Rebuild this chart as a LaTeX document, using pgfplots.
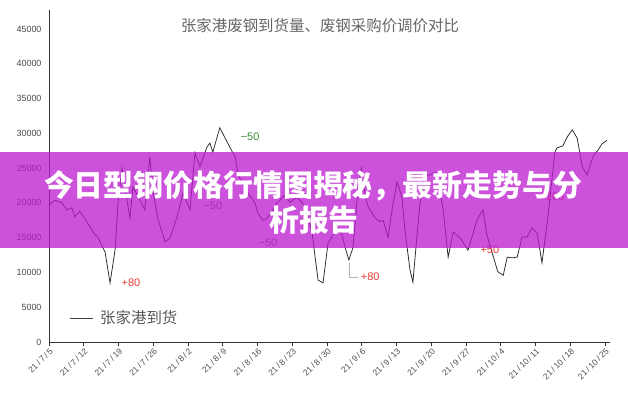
\documentclass[border=0pt]{standalone}
\usepackage{fontspec}
\setmainfont{Liberation Sans}
\newfontfamily\cjk{Noto Sans CJK SC}
\usepackage{pgfplots}
\pgfplotsset{compat=1.18}
\definecolor{banner}{RGB}{187,24,208}
\definecolor{upred}{RGB}{226,58,50}
\definecolor{dngreen}{RGB}{52,140,52}
\newcommand\dsl{\kern0.2em/\kern0.2em}
\begin{document}
\begin{tikzpicture}
\path[use as bounding box] (0,0) rectangle (628bp,400bp);
\begin{axis}[
    at={(49bp,58bp)}, anchor=south west,
    scale only axis, width=561bp, height=332bp,
    xmin=0, xmax=113, ymin=0, ymax=47730,
    axis x line*=bottom, axis y line*=left,
    axis line style={-, draw=black!80, line width=0.8pt},
    xtick={0,7,...,112},
    xticklabels={21\dsl7\dsl5,21\dsl7\dsl12,21\dsl7\dsl19,21\dsl7\dsl26,21\dsl8\dsl2,21\dsl8\dsl9,21\dsl8\dsl16,21\dsl8\dsl23,21\dsl8\dsl30,21\dsl9\dsl6,21\dsl9\dsl13,21\dsl9\dsl20,21\dsl9\dsl27,21\dsl10\dsl4,21\dsl10\dsl11,21\dsl10\dsl18,21\dsl10\dsl25},
    xticklabel style={rotate=45, anchor=north east, font=\fontsize{8.5}{9}\selectfont, text=black!70, inner sep=1pt},
    tick align=outside, major tick length=4bp,
    x tick style={draw=black!80, line width=0.7pt},
    ytick={0,5000,...,45000},
    y tick style={draw=none},
    yticklabel style={font=\fontsize{9}{10}\selectfont, text=black!70},
    scaled y ticks=false,
    /pgf/number format/.cd, assume math mode=true, 1000 sep={}, set thousands separator={},
]
\addplot[black!85, line width=0.75pt] coordinates {
(0,19700) (1.2,20400) (2.6,20000) (3.6,19000) (4.6,19300) (5.2,18000)
(6.2,18800) (7.6,17300) (8.9,15800) (9.9,15000) (11.3,12900) (12.3,8500)
(13.3,13200) (13.9,20000) (14.7,25000) (16.3,17800) (16.9,22300) (18.3,20400)
(19.3,19000) (20.3,26600) (21.0,21400) (22.0,17500) (23.4,14400) (24.4,15000)
(25.8,18000) (27.0,21400) (28.4,19000) (29.4,27200) (30.4,25200) (31.8,28000)
(32.4,28600) (33.0,27300) (34.4,30800) (36.5,27900) (37.5,26600) (38.1,24000)
(40.1,21400) (41.5,20000) (42.1,18500) (43.1,17500) (43.9,17800) (44.9,18700)
(45.9,20000) (47.5,21100) (48.5,20100) (50.0,20800) (51.0,20000) (52.0,18500)
(53.0,15700) (53.6,12200) (54.2,8900) (55.2,8500) (56.2,14200) (57.2,15400)
(58.0,16500) (59.0,15400) (59.6,13700) (60.4,11800) (61.2,13500) (61.8,18000)
(62.2,21900) (62.9,25000) (63.7,21100) (64.3,19400) (65.7,17800) (66.7,17300)
(67.3,17500) (68.3,15000) (69.1,19000) (70.1,23000) (71.1,20800) (71.7,16100)
(72.7,10400) (73.3,8600) (74.1,15100) (74.7,19700) (75.7,24000) (76.8,24000)
(77.8,24400) (78.4,22900) (79.4,19000) (80.4,12200) (81.4,15800) (82.8,15000)
(84.4,13200) (86.2,17500) (87.4,19000) (88.2,15400) (89.4,12500) (90.4,10100)
(91.5,9600) (92.3,12200) (93.3,12100) (94.3,12200) (95.3,15100) (96.3,15100)
(97.3,16400) (98.3,15700) (99.3,11400) (100.5,18000) (101.9,27300) (102.3,27900)
(103.5,28200) (104.4,29500) (105.4,30500) (106.4,29300) (107.4,25200) (108.4,24000)
(109.6,26700) (110.6,27600) (111.4,28500) (112.4,29000)
};
% price adjustment notes
\node[text=upred, font=\fontsize{11}{12}\selectfont] at (axis cs:16.5,8480) {+80};
\node[text=dngreen, font=\fontsize{11}{12}\selectfont] at (axis cs:40.5,29470) {−50};
\node[text=black!55, font=\fontsize{11}{12}\selectfont] at (axis cs:33,19550) {−50};
\node[text=black!55, font=\fontsize{11}{12}\selectfont] at (axis cs:44.1,14230) {−50};
\draw[black!30, line width=0.5pt] (axis cs:60.4,11400) |- (axis cs:62.3,9345);
\node[text=upred, font=\fontsize{11}{12}\selectfont] at (axis cs:64.7,9345) {+80};
\node[text=upred, font=\fontsize{11}{12}\selectfont] at (axis cs:88.8,13230) {+50};
\node[text=upred, font=\fontsize{11}{12}\selectfont] at (axis cs:101.3,20850) {+100};
\end{axis}
% title and legend
\node[text=black!60, font=\cjk\fontsize{15.5}{16}\selectfont] at (320bp,374bp) {张家港废钢到货量、废钢采购价调价对比};
\draw[black!75, line width=0.9pt] (70bp,82bp) -- (93bp,82bp);
\node[anchor=west, text=black!65, font=\cjk\fontsize{15.5}{16}\selectfont, inner sep=0pt] at (100bp,82bp) {张家港到货};
% overlay banner
\fill[banner, fill opacity=0.75] (0,152bp) rectangle (628bp,248bp);
\node[text=white, font=\cjk\bfseries\fontsize{30}{32}\selectfont] at (313bp,214bp) {今日型钢价格行情图揭秘，最新走势与分};
\node[text=white, font=\cjk\bfseries\fontsize{30}{32}\selectfont] at (314bp,180bp) {析报告};
\end{tikzpicture}
\end{document}
